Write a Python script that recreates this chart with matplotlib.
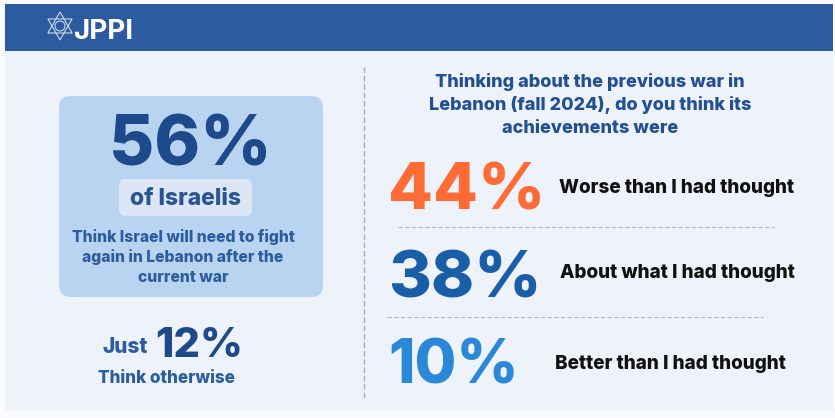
import matplotlib.pyplot as plt
from matplotlib.patches import FancyBboxPatch, Rectangle, Polygon, Circle
import numpy as np

# data
headline_pct = 56
headline_who = "of Israelis"
headline_text = ["Think Israel will need to fight", "again in Lebanon after the", "current war"]
other_pct = 12
other_text = "Think otherwise"
question = ["Thinking about the previous war in", "Lebanon (fall 2024), do you think its", "achievements were"]
answer_pcts = [44, 38, 10]
answer_labels = ["Worse than I had thought", "About what I had thought", "Better than I had thought"]

FONT = ['Inter', 'DejaVu Sans']
W = 'heavy'
answer_colors = ['#ff6b35', '#1a5ea8', '#2b88d9']

fig = plt.figure(figsize=(8.35, 4.18), dpi=100)
fig.patch.set_facecolor('#f9fafd')
ax = fig.add_axes([0, 0, 1, 1])
ax.set_xlim(0, 835)
ax.set_ylim(418, 0)
ax.axis('off')

# panel and header
ax.add_patch(Rectangle((5, 4), 828, 406, color='#eef2fb', lw=0))
ax.add_patch(Rectangle((5, 4), 828, 47, color='#2c5ba0', lw=0))

# logo: hexagram + JPPI
cx, cy, r = 60, 26, 14
for off in (90, 270):
    ang = np.deg2rad(off + np.array([0, 120, 240]))
    pts = np.c_[cx + r * np.cos(ang), cy - r * np.sin(ang)]
    ax.add_patch(Polygon(pts, closed=True, fill=False, ec='#dfe8f5', lw=0.7))
ax.add_patch(Circle((cx, cy), 5, fill=False, ec='#dfe8f5', lw=0.7))
ax.text(73, 39, "JPPI", color='white', fontsize=20, fontweight='bold', family=FONT, va='baseline', ha='left')

# left card
ax.add_patch(FancyBboxPatch((59 + 12, 96 + 12), 264 - 24, 201 - 24,
                            boxstyle="round,pad=12", fc='#b8d4f0', ec='none'))
ax.text(190, 165, f"{headline_pct}%", color='#1e4a8c', fontsize=50, fontweight=W,
        family=FONT, ha='center', va='baseline')
ax.add_patch(FancyBboxPatch((119 + 6, 179 + 6), 133 - 12, 37 - 12,
                            boxstyle="round,pad=6", fc='#dce6f4', ec='none'))
ax.text(185, 205, headline_who, color='#2a5592', fontsize=16.5, fontweight=W,
        family=FONT, ha='center', va='baseline')
for i, line in enumerate(headline_text):
    ax.text(183, 242 + 20 * i, line, color='#2c5e9e', fontsize=11.3, fontweight=W,
            family=FONT, ha='center', va='baseline')

ax.text(148, 353, "Just", color='#2c5e9e', fontsize=15, fontweight=W,
        family=FONT, ha='right', va='baseline')
ax.text(155, 357, f"{other_pct}%", color='#1e4a8c', fontsize=30, fontweight=W,
        family=FONT, ha='left', va='baseline')
ax.text(166, 383, other_text, color='#2c5e9e', fontsize=12.3, fontweight=W,
        family=FONT, ha='center', va='baseline')

# divider
ax.plot([364, 364], [67, 400], color='#a9adb5', lw=1, ls=(0, (4, 2)))

# right side
for i, line in enumerate(question):
    ax.text(590, 87 + 23 * i, line, color='#234f93', fontsize=13, fontweight=W,
            family=FONT, ha='center', va='baseline')

pct_base = [210, 297, 383]
pct_size = [47, 47, 43.5]
label_base = [193, 278, 369]
label_x = [559, 560, 555]
for pct, lab, col, yb, fs, yl, xl in zip(answer_pcts, answer_labels, answer_colors,
                                       pct_base, pct_size, label_base, label_x):
    ax.text(388, yb, f"{pct}%", color=col, fontsize=fs, fontweight=W,
            family=FONT, ha='left', va='baseline')
    ax.text(xl, yl, lab, color='#111111', fontsize=13.6, fontweight=W,
            family=FONT, ha='left', va='baseline')

ax.plot([398, 774], [227, 227], color='#b5b8bf', lw=0.8, ls=(0, (4, 2)))
ax.plot([387, 763], [317, 317], color='#b5b8bf', lw=0.8, ls=(0, (4, 2)))

fig.savefig('out.png', dpi=100, facecolor=fig.get_facecolor())
